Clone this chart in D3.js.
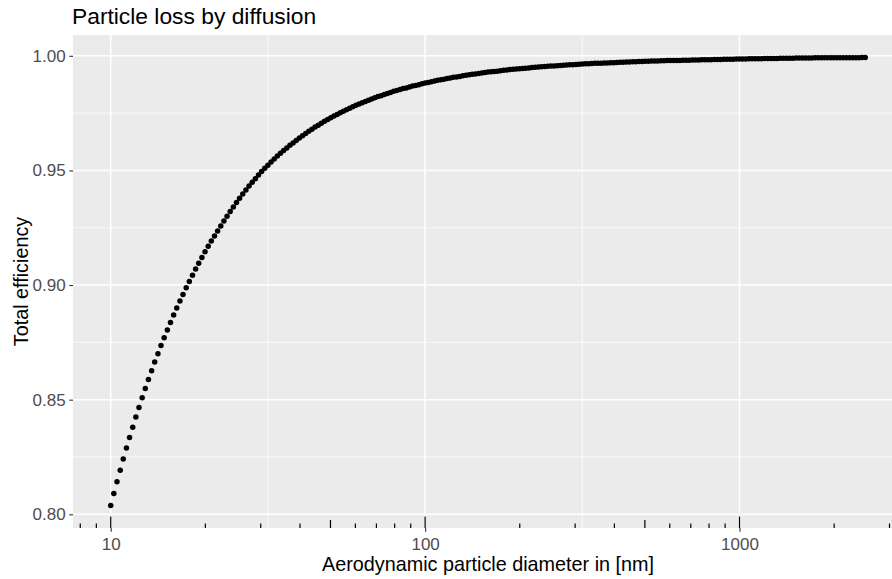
<!DOCTYPE html>
<html>
<head>
<meta charset="utf-8">
<script src="https://cdn.jsdelivr.net/npm/d3@7/dist/d3.min.js"></script>
<style>
  html, body { margin: 0; padding: 0; background: #ffffff; }
  svg { display: block; }
  text { font-family: "Liberation Sans", Arial, Helvetica, sans-serif; }
</style>
</head>
<body>
<svg id="chart" width="892" height="579"></svg>
<script>
// ---------------- data ----------------
const chartTitle = "Particle loss by diffusion";
const xAxisTitle = "Aerodynamic particle diameter in [nm]";
const yAxisTitle = "Total efficiency";

// aerodynamic particle diameter [nm]
const diameters = [
  10, 10.23, 10.47, 10.72, 10.96, 11.22, 11.48, 11.75, 12.02, 12.3,
  12.59, 12.88, 13.18, 13.49, 13.8, 14.13, 14.45, 14.79, 15.14, 15.49,
  15.85, 16.22, 16.6, 16.98, 17.38, 17.78, 18.2, 18.62, 19.05, 19.5,
  19.95, 20.42, 20.89, 21.38, 21.88, 22.39, 22.91, 23.44, 23.99, 24.55,
  25.12, 25.7, 26.3, 26.92, 27.54, 28.18, 28.84, 29.51, 30.2, 30.9,
  31.62, 32.36, 33.11, 33.88, 34.67, 35.48, 36.31, 37.15, 38.02, 38.9,
  39.81, 40.74, 41.69, 42.66, 43.65, 44.67, 45.71, 46.77, 47.86, 48.98,
  50.12, 51.29, 52.48, 53.7, 54.95, 56.23, 57.54, 58.88, 60.26, 61.66,
  63.1, 64.57, 66.07, 67.61, 69.18, 70.79, 72.44, 74.13, 75.86, 77.62,
  79.43, 81.28, 83.18, 85.11, 87.1, 89.13, 91.2, 93.33, 95.5, 97.72,
  100, 102.3, 104.7, 107.2, 109.6, 112.2, 114.8, 117.5, 120.2, 123,
  125.9, 128.8, 131.8, 134.9, 138, 141.3, 144.5, 147.9, 151.4, 154.9,
  158.5, 162.2, 166, 169.8, 173.8, 177.8, 182, 186.2, 190.5, 195,
  199.5, 204.2, 208.9, 213.8, 218.8, 223.9, 229.1, 234.4, 239.9, 245.5,
  251.2, 257, 263, 269.2, 275.4, 281.8, 288.4, 295.1, 302, 309,
  316.2, 323.6, 331.1, 338.8, 346.7, 354.8, 363.1, 371.5, 380.2, 389,
  398.1, 407.4, 416.9, 426.6, 436.5, 446.7, 457.1, 467.7, 478.6, 489.8,
  501.2, 512.9, 524.8, 537, 549.5, 562.3, 575.4, 588.8, 602.6, 616.6,
  631, 645.7, 660.7, 676.1, 691.8, 707.9, 724.4, 741.3, 758.6, 776.2,
  794.3, 812.8, 831.8, 851.1, 871, 891.3, 912, 933.3, 955, 977.2,
  1000, 1023, 1047, 1072, 1096, 1122, 1148, 1175, 1202, 1230,
  1259, 1288, 1318, 1349, 1380, 1413, 1445, 1479, 1514, 1549,
  1585, 1622, 1660, 1698, 1738, 1778, 1820, 1862, 1905, 1950,
  1995, 2042, 2089, 2138, 2188, 2239, 2291, 2344, 2399, 2455,
  2512
];

// total efficiency at each diameter
const efficiency = [
  0.8038, 0.8091, 0.8142, 0.8192, 0.8241, 0.8289, 0.8335, 0.8380, 0.8424, 0.8466,
  0.8508, 0.8549, 0.8588, 0.8626, 0.8664, 0.8700, 0.8736, 0.8770, 0.8804, 0.8837,
  0.8869, 0.8900, 0.8930, 0.8959, 0.8988, 0.9016, 0.9043, 0.9070, 0.9095, 0.9120,
  0.9145, 0.9169, 0.9192, 0.9214, 0.9236, 0.9258, 0.9279, 0.9300, 0.9321, 0.9341,
  0.9360, 0.9379, 0.9397, 0.9415, 0.9432, 0.9448, 0.9464, 0.9480, 0.9495, 0.9509,
  0.9523, 0.9537, 0.9550, 0.9563, 0.9575, 0.9587, 0.9598, 0.9610, 0.9620, 0.9631,
  0.9641, 0.9651, 0.9661, 0.9671, 0.9680, 0.9689, 0.9697, 0.9706, 0.9714, 0.9722,
  0.9730, 0.9737, 0.9744, 0.9752, 0.9758, 0.9765, 0.9771, 0.9778, 0.9784, 0.9790,
  0.9795, 0.9801, 0.9806, 0.9812, 0.9817, 0.9822, 0.9826, 0.9831, 0.9836, 0.9840,
  0.9845, 0.9849, 0.9853, 0.9857, 0.9860, 0.9864, 0.9868, 0.9871, 0.9874, 0.9878,
  0.9881, 0.9884, 0.9887, 0.9890, 0.9893, 0.9896, 0.9898, 0.9901, 0.9903, 0.9906,
  0.9908, 0.9910, 0.9913, 0.9915, 0.9917, 0.9919, 0.9921, 0.9923, 0.9925, 0.9927,
  0.9929, 0.9930, 0.9932, 0.9933, 0.9935, 0.9937, 0.9938, 0.9940, 0.9941, 0.9942,
  0.9944, 0.9945, 0.9946, 0.9947, 0.9949, 0.9950, 0.9951, 0.9952, 0.9953, 0.9954,
  0.9955, 0.9956, 0.9957, 0.9958, 0.9959, 0.9960, 0.9961, 0.9961, 0.9962, 0.9963,
  0.9964, 0.9965, 0.9965, 0.9966, 0.9967, 0.9967, 0.9968, 0.9969, 0.9969, 0.9970,
  0.9970, 0.9971, 0.9972, 0.9972, 0.9973, 0.9973, 0.9974, 0.9974, 0.9975, 0.9975,
  0.9976, 0.9976, 0.9977, 0.9977, 0.9977, 0.9978, 0.9978, 0.9979, 0.9979, 0.9979,
  0.9980, 0.9980, 0.9981, 0.9981, 0.9981, 0.9982, 0.9982, 0.9982, 0.9983, 0.9983,
  0.9983, 0.9983, 0.9984, 0.9984, 0.9984, 0.9985, 0.9985, 0.9985, 0.9985, 0.9986,
  0.9986, 0.9986, 0.9986, 0.9987, 0.9987, 0.9987, 0.9987, 0.9987, 0.9988, 0.9988,
  0.9988, 0.9988, 0.9988, 0.9989, 0.9989, 0.9989, 0.9989, 0.9989, 0.9990, 0.9990,
  0.9990, 0.9990, 0.9990, 0.9990, 0.9991, 0.9991, 0.9991, 0.9991, 0.9991, 0.9991,
  0.9991, 0.9992, 0.9992, 0.9992, 0.9992, 0.9992, 0.9992, 0.9992, 0.9992, 0.9993,
  0.9993
];

const yTickValues = [0.80, 0.85, 0.90, 0.95, 1.00];
const yMinorValues = [0.825, 0.875, 0.925, 0.975];
const xTickValues = [10, 100, 1000];
const xMinorValues = [31.62, 316.2, 3162];

// ---------------- layout ----------------
const svg = d3.select("#chart");
const W = 892, H = 579;
const panel = { left: 73, top: 35, right: 903, bottom: 528 };

const points = diameters.map((d, i) => ({ d: d, e: efficiency[i] }));

// ggplot-style 5% expansion
const lx = d3.extent(diameters).map(Math.log10);
const padX = (lx[1] - lx[0]) * 0.05;
const ey = d3.extent(efficiency);
const padY = (ey[1] - ey[0]) * 0.05;

const x = d3.scaleLog()
  .domain([Math.pow(10, lx[0] - padX), Math.pow(10, lx[1] + padX)])
  .range([panel.left, panel.right]);
const y = d3.scaleLinear()
  .domain([ey[0] - padY, ey[1] + padY])
  .range([panel.bottom, panel.top]);

svg.append("rect").attr("width", W).attr("height", H).attr("fill", "#ffffff");

svg.append("defs").append("clipPath").attr("id", "clip")
  .append("rect")
  .attr("x", panel.left).attr("y", panel.top)
  .attr("width", panel.right - panel.left).attr("height", panel.bottom - panel.top);

const gp = svg.append("g").attr("clip-path", "url(#clip)");
gp.append("rect")
  .attr("x", panel.left).attr("y", panel.top)
  .attr("width", panel.right - panel.left).attr("height", panel.bottom - panel.top)
  .attr("fill", "#EBEBEB");

// minor grid
gp.selectAll(".ymin").data(yMinorValues).join("line")
  .attr("x1", panel.left).attr("x2", panel.right)
  .attr("y1", d => y(d)).attr("y2", d => y(d))
  .attr("stroke", "#ffffff").attr("stroke-width", 0.75);
gp.selectAll(".xmin").data(xMinorValues).join("line")
  .attr("y1", panel.top).attr("y2", panel.bottom)
  .attr("x1", d => x(d)).attr("x2", d => x(d))
  .attr("stroke", "#ffffff").attr("stroke-width", 0.75);
// major grid
gp.selectAll(".ymaj").data(yTickValues).join("line")
  .attr("x1", panel.left).attr("x2", panel.right)
  .attr("y1", d => y(d)).attr("y2", d => y(d))
  .attr("stroke", "#ffffff").attr("stroke-width", 1.5);
gp.selectAll(".xmaj").data(xTickValues).join("line")
  .attr("y1", panel.top).attr("y2", panel.bottom)
  .attr("x1", d => x(d)).attr("x2", d => x(d))
  .attr("stroke", "#ffffff").attr("stroke-width", 1.5);

// points
gp.selectAll(".pt").data(points).join("circle")
  .attr("cx", p => x(p.d)).attr("cy", p => y(p.e))
  .attr("r", 2.75).attr("fill", "#000000");

// log ticks along the bottom (inside the panel)
const dom = x.domain();
const logTicks = [];
for (let k = 0; k <= 4; k++) {
  for (let m = 1; m <= 9; m++) {
    const v = m * Math.pow(10, k);
    if (v >= dom[0] && v <= dom[1]) logTicks.push({ v: v, m: m });
  }
}
gp.selectAll(".lt").data(logTicks).join("line")
  .attr("x1", t => x(t.v)).attr("x2", t => x(t.v))
  .attr("y1", panel.bottom)
  .attr("y2", t => panel.bottom - (t.m === 1 ? 11.5 : (t.m === 5 ? 8 : 4.5)))
  .attr("stroke", "#000000").attr("stroke-width", 1.2);

// axes
const yAxis = svg.append("g").attr("transform", `translate(${panel.left},0)`)
  .call(d3.axisLeft(y).tickValues(yTickValues).tickFormat(d3.format(".2f"))
    .tickSize(3.7).tickPadding(3.6));
yAxis.select(".domain").remove();
yAxis.selectAll("line").attr("stroke", "#333333").attr("stroke-width", 1.1);
yAxis.selectAll("text").attr("fill", "#4D4D4D").attr("font-size", "17px")
  .attr("font-family", "'Liberation Sans', Arial, sans-serif");

const xAxis = svg.append("g").attr("transform", `translate(0,${panel.bottom})`)
  .call(d3.axisBottom(x).tickValues(xTickValues).tickFormat(d3.format("d"))
    .tickSize(3.7).tickPadding(6));
xAxis.select(".domain").remove();
xAxis.selectAll("line").attr("stroke", "#333333").attr("stroke-width", 1.1);
xAxis.selectAll("text").attr("fill", "#4D4D4D").attr("font-size", "17px")
  .attr("font-family", "'Liberation Sans', Arial, sans-serif");

// titles
svg.append("text")
  .attr("x", 72).attr("y", 23.5)
  .attr("font-size", "22.8px").attr("fill", "#000000")
  .text(chartTitle);

svg.append("text")
  .attr("x", (panel.left + panel.right) / 2).attr("y", 571)
  .attr("text-anchor", "middle")
  .attr("font-size", "19.8px").attr("fill", "#000000")
  .text(xAxisTitle);

svg.append("text")
  .attr("transform", `translate(27.5,${(panel.top + panel.bottom) / 2}) rotate(-90)`)
  .attr("text-anchor", "middle")
  .attr("font-size", "19.8px").attr("fill", "#000000")
  .text(yAxisTitle);
</script>
</body>
</html>
